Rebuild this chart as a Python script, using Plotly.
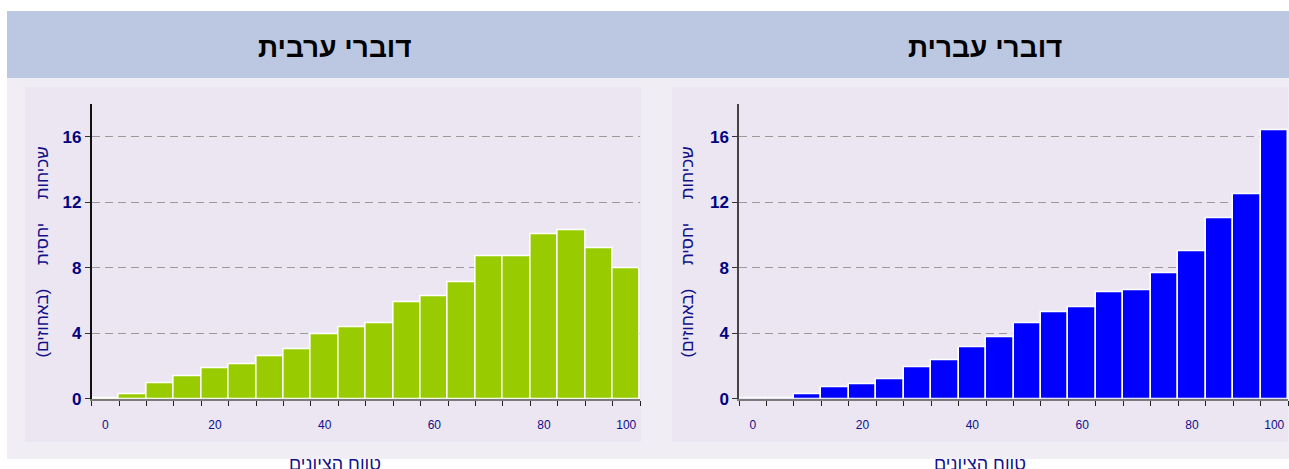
import plotly.graph_objects as go

# נתונים: שכיחות יחסית (באחוזים) לפי טווח ציונים, 20 סלים
arab_speakers = [0.05, 0.27, 0.98, 1.39, 1.9, 2.1, 2.61, 3.02, 3.93, 4.35,
                 4.65, 5.88, 6.29, 7.1, 8.71, 8.71, 10.04, 10.33, 9.22, 8.0]
hebrew_speakers = [0.04, 0.04, 0.29, 0.72, 0.9, 1.23, 1.93, 2.34, 3.16, 3.77,
                   4.6, 5.31, 5.62, 6.54, 6.65, 7.67, 9.0, 11.06, 12.49, 16.39]
bins = list(range(20))
tick_pos = [0, 4, 8, 12, 16, 19]
tick_text = ["0", "20", "40", "60", "80", "100"]
y_ticks = [0, 4, 8, 12, 16]

W, H = 1289, 469
FONT = "Liberation Sans, Arial, sans-serif"
NAVY = "#10108a"
YS = 1.024  # תיקון קנה מידה אנכי של המדידות


def px(x):
    return x / W


def py(y):
    return max(0.0, 1 - y * YS / H)


fig = go.Figure()

fig.add_trace(go.Bar(
    x=bins, y=arab_speakers, width=1,
    marker=dict(color="#99cc00", line=dict(color="white", width=1.5)),
    xaxis="x", yaxis="y", showlegend=False,
))
fig.add_trace(go.Bar(
    x=bins, y=hebrew_speakers, width=1,
    marker=dict(color="#0000ff", line=dict(color="white", width=1.5)),
    xaxis="x2", yaxis="y2", showlegend=False,
))

xaxis_common = dict(
    range=[-0.5, 19.5],
    tickmode="array", tickvals=tick_pos, ticktext=tick_text,
    ticks="", ticklabelstandoff=14,
    tickfont=dict(family=FONT, size=12, color=NAVY),
    showline=True, linecolor="#7a7a7a", linewidth=2,
    showgrid=False, zeroline=False, fixedrange=True,
    minor=dict(tickmode="array", tickvals=[b - 0.5 for b in range(21)],
               ticks="outside", ticklen=5, tickcolor="#222", tickwidth=1,
               showgrid=False),
)
yaxis_common = dict(
    range=[0, 18],
    tickmode="array", tickvals=y_ticks,
    ticks="outside", ticklen=5, tickcolor="#333",
    tickfont=dict(family=FONT, size=17, color="#000080", weight="bold"),
    showline=True, linewidth=1.5,
    showgrid=True, gridcolor="#9a9a9a", gridwidth=1, griddash="8px,5px",
    zeroline=False, fixedrange=True,
)

y_dom = [py(398), py(104)]

fig.update_layout(
    width=W, height=H, autosize=False,
    margin=dict(l=0, r=0, t=0, b=0),
    paper_bgcolor="white",
    plot_bgcolor="rgba(0,0,0,0)",
    bargap=0,
    xaxis=dict(xaxis_common, domain=[px(91.6), px(640)], anchor="y"),
    yaxis=dict(yaxis_common, domain=y_dom, anchor="x", linecolor="#111"),
    xaxis2=dict(xaxis_common, domain=[px(739), px(1288)], anchor="y2"),
    yaxis2=dict(yaxis_common, domain=y_dom, anchor="x2", linecolor="#444"),
)

# רקעים: פס כותרת, רקע חיצוני ואזורי גרף פנימיים
shapes = [
    dict(x0=7, x1=W, y0=11, y1=78, fill="#bcc8e1"),
    dict(x0=7, x1=W, y0=78, y1=H, fill="#f0edf5"),
    dict(x0=25, x1=641, y0=87, y1=441, fill="#ebe6f1"),
    dict(x0=672, x1=1288, y0=87, y1=441, fill="#ebe6f1"),
]
for s in shapes:
    fig.add_shape(type="rect", xref="paper", yref="paper", layer="below",
                  x0=px(s["x0"]), x1=px(s["x1"]), y0=py(s["y1"]), y1=py(s["y0"]),
                  fillcolor=s["fill"], line=dict(width=0))

sp = "\u00a0" * 5
panels = [
    ("דוברי ערבית", 335, 43, 335),
    ("דוברי עברית", 985, 688, 980),
]
for title, tx, ytx, xtx in panels:
    fig.add_annotation(text=f"<b>{title}</b>", xref="paper", yref="paper",
                       x=px(tx), y=py(47), xanchor="center", yanchor="middle",
                       showarrow=False,
                       font=dict(family=FONT, size=28, color="black"))
    fig.add_annotation(text=f"שכיחות{sp}יחסית{sp}(באחוזים)",
                       xref="paper", yref="paper", x=px(ytx), y=py(252),
                       xanchor="center", yanchor="middle",
                       textangle=-90, showarrow=False,
                       font=dict(family=FONT, size=17, color=NAVY))
    fig.add_annotation(text="טווח הציונים", xref="paper", yref="paper",
                       x=px(xtx), y=py(451), xanchor="center", yanchor="top",
                       showarrow=False,
                       font=dict(family=FONT, size=18, color=NAVY))

fig.write_html(
    "out.html",
    config={"displayModeBar": False, "responsive": False},
    post_script="document.body.style.margin='0';document.body.style.overflow='hidden';",
)
